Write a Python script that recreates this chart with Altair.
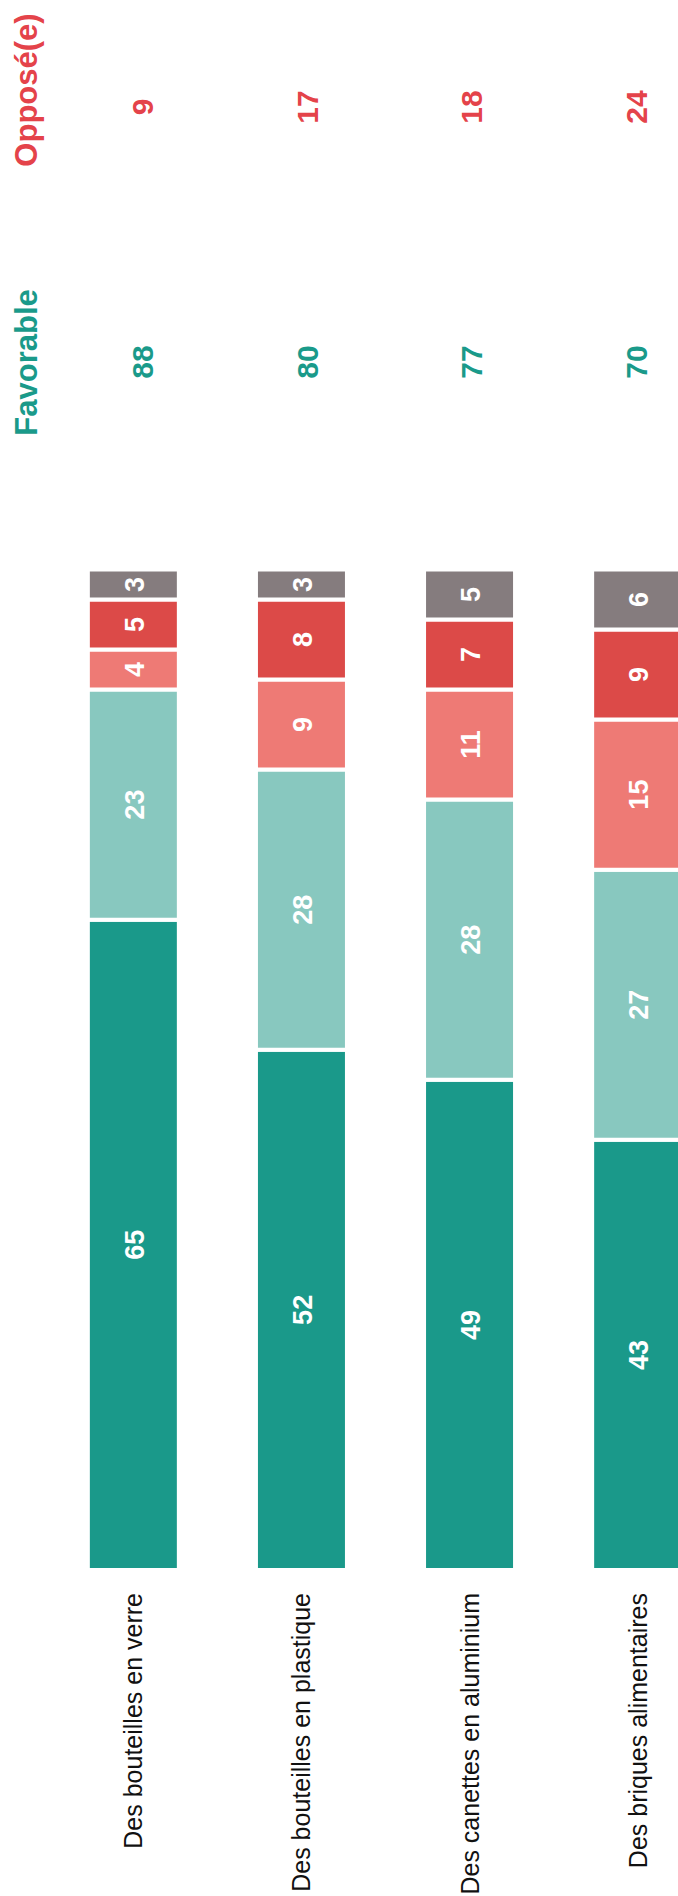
import altair as alt
import pandas as pd

# ---- data ----
categories = [
    "Des bouteilles en verre",
    "Des bouteilles en plastique",
    "Des canettes en aluminium",
    "Des briques alimentaires",
]
series = [
    "Tout à fait favorable",
    "Plutôt favorable",
    "Plutôt opposé(e)",
    "Tout à fait opposé(e)",
    "Ne se prononce pas",
]
tout_fav = [65, 52, 49, 43]
plutot_fav = [23, 28, 28, 27]
plutot_opp = [4, 9, 11, 15]
tout_opp = [5, 8, 7, 9]
nsp = [3, 3, 5, 6]
favorable_tot = [88, 80, 77, 70]
oppose_tot = [9, 17, 18, 24]

colors = ["#1a998a", "#88c8bf", "#ee7a75", "#dc4a48", "#857c7e"]
teal_txt = "#1a9a8a"
red_txt = "#e4434a"
FONT = "Liberation Sans"

values_by_series = [tout_fav, plutot_fav, plutot_opp, tout_opp, nsp]
rows = []
for si, (s, vals) in enumerate(zip(series, values_by_series)):
    for c, v in zip(categories, vals):
        rows.append({"category": c, "series": s, "order": si, "value": v})
df = pd.DataFrame(rows)

tot_df = pd.DataFrame({
    "category": categories,
    "favorable": favorable_tot,
    "oppose": oppose_tot,
})
cat_df = pd.DataFrame({"category": categories})

W, H = 678, 1896
xscale = alt.Scale(domain=categories, range=[49.3, 721.7], paddingInner=0, paddingOuter=0)
xscale_num = alt.Scale(domain=categories, range=[71.0, 729.0], paddingInner=0, paddingOuter=0)
yscale = alt.Scale(domain=[0, 100], range=[1570, 569.5], nice=False, zero=True)

bars = alt.Chart(df).mark_bar(size=91, stroke="white", strokeWidth=4).encode(
    x=alt.X("category:N", scale=xscale, axis=None, sort=categories),
    y=alt.Y("value:Q", stack="zero", scale=yscale, axis=None),
    color=alt.Color("series:N", scale=alt.Scale(domain=series, range=colors), legend=None),
    order=alt.Order("order:Q", sort="ascending"),
)

bar_labels = alt.Chart(df).transform_stack(
    stack="value",
    groupby=["category"],
    sort=[alt.SortField("order", order="ascending")],
    as_=["y0", "y1"],
).transform_calculate(
    mid="(datum.y0 + datum.y1) / 2"
).mark_text(
    font=FONT, fontSize=27, fontWeight="bold", color="white",
    angle=270, align="center", baseline="alphabetic", dy=10.5,
).encode(
    x=alt.X("category:N", scale=xscale, axis=None, sort=categories),
    y=alt.Y("mid:Q", scale=yscale, axis=None),
    text=alt.Text("value:Q"),
)

cat_labels = alt.Chart(cat_df).mark_text(
    font=FONT, fontSize=25, color="#111111",
    angle=270, align="right", baseline="alphabetic", dy=9,
).encode(
    x=alt.X("category:N", scale=xscale, axis=None, sort=categories),
    y=alt.value(1593),
    text="category:N",
)

fav_nums = alt.Chart(tot_df).mark_text(
    font=FONT, fontSize=30, fontWeight="bold", color=teal_txt,
    angle=270, align="center", baseline="alphabetic",
).encode(
    x=alt.X("category:N", scale=xscale_num, axis=None, sort=categories),
    y=alt.value(362),
    text=alt.Text("favorable:Q"),
)

opp_nums = alt.Chart(tot_df).mark_text(
    font=FONT, fontSize=30, fontWeight="bold", color=red_txt,
    angle=270, align="center", baseline="alphabetic",
).encode(
    x=alt.X("category:N", scale=xscale_num, axis=None, sort=categories),
    y=alt.value(107),
    text=alt.Text("oppose:Q"),
)

hdr_fav = alt.Chart(pd.DataFrame({"t": ["Favorable"]})).mark_text(
    font=FONT, fontSize=31, fontWeight="bold", color=teal_txt,
    angle=270, align="center", baseline="alphabetic",
).encode(x=alt.value(36.5), y=alt.value(362.5), text="t:N")

hdr_opp = alt.Chart(pd.DataFrame({"t": ["Opposé(e)"]})).mark_text(
    font=FONT, fontSize=31, fontWeight="bold", color=red_txt,
    angle=270, align="center", baseline="alphabetic",
).encode(x=alt.value(36.5), y=alt.value(90), text="t:N")

chart = alt.layer(
    bars, bar_labels, cat_labels, fav_nums, opp_nums, hdr_fav, hdr_opp
).resolve_scale(
    x="independent"
).properties(
    width=W, height=H, padding=0, background="white",
    autosize=alt.AutoSizeParams(type="none"),
).configure_view(strokeWidth=0)

chart.save("out.html", embed_options={"renderer": "svg", "actions": False})
